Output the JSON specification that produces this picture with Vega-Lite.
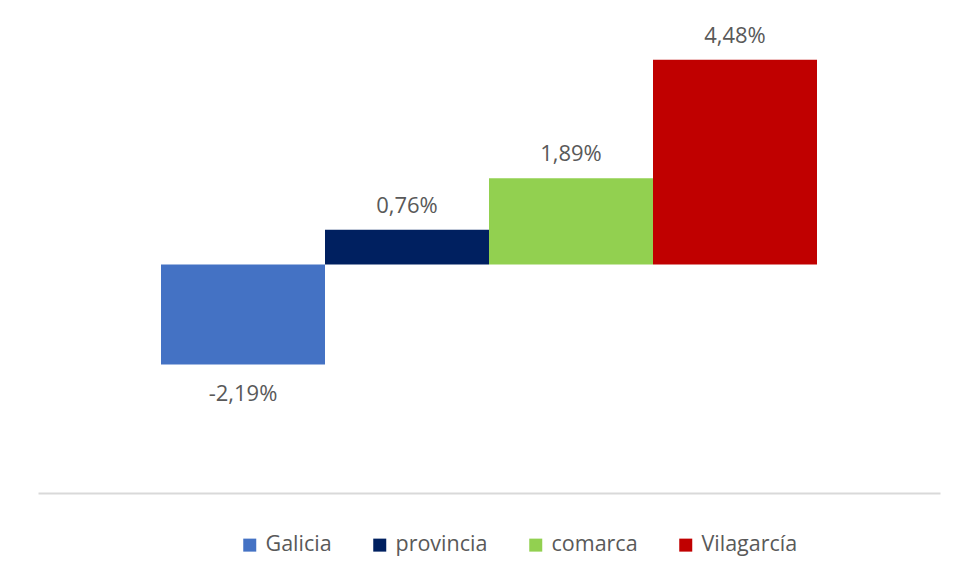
{
  "$schema": "https://vega.github.io/schema/vega-lite/v6.json",
  "autosize": {"type": "none"},
  "width": 902,
  "height": 457,
  "padding": {"left": 38, "top": 36, "right": 20, "bottom": 87},
  "background": "white",
  "config": {
    "view": {"stroke": null},
    "locale": {"number": {"decimal": ",", "thousands": ".", "grouping": [3], "currency": ["", " €"], "minus": "-"}},
    "font": "Open Sans"
  },
  "data": {
    "values": [
      {"zona": "Galicia", "valor": -0.0219},
      {"zona": "provincia", "valor": 0.0076},
      {"zona": "comarca", "valor": 0.0189},
      {"zona": "Vilagarcía", "valor": 0.0448}
    ]
  },
  "encoding": {
    "x": {
      "field": "zona", "type": "nominal",
      "sort": ["Galicia", "provincia", "comarca", "Vilagarcía"],
      "scale": {"paddingInner": 0, "paddingOuter": 0.75},
      "axis": {"labels": false, "ticks": false, "title": null, "domainColor": "#D9D9D9", "domainWidth": 2}
    },
    "y": {
      "field": "valor", "type": "quantitative",
      "scale": {"domain": [-0.05, 0.05], "nice": false},
      "axis": null
    }
  },
  "layer": [
    {
      "mark": {"type": "bar"},
      "encoding": {
        "color": {
          "field": "zona", "type": "nominal",
          "sort": ["Galicia", "provincia", "comarca", "Vilagarcía"],
          "scale": {"domain": ["Galicia", "provincia", "comarca", "Vilagarcía"], "range": ["#4472C4", "#002060", "#92D050", "#C00000"]},
          "legend": {
            "orient": "none", "legendX": 201, "legendY": 498,
            "direction": "horizontal", "title": null,
            "symbolType": "square", "symbolSize": 169, "symbolStrokeWidth": 0,
            "labelFontSize": 21.5, "labelColor": "#595959", "labelOffset": 5,
            "columnPadding": 37, "labelLimit": 300
          }
        }
      }
    },
    {
      "transform": [{"filter": "datum.valor >= 0"}],
      "mark": {"type": "text", "baseline": "alphabetic", "dy": -17, "fontSize": 22, "color": "#595959"},
      "encoding": {"text": {"field": "valor", "type": "quantitative", "format": ".2%"}}
    },
    {
      "transform": [{"filter": "datum.valor < 0"}],
      "mark": {"type": "text", "baseline": "alphabetic", "dy": 36, "fontSize": 22, "color": "#595959"},
      "encoding": {"text": {"field": "valor", "type": "quantitative", "format": ".2%"}}
    }
  ]
}
